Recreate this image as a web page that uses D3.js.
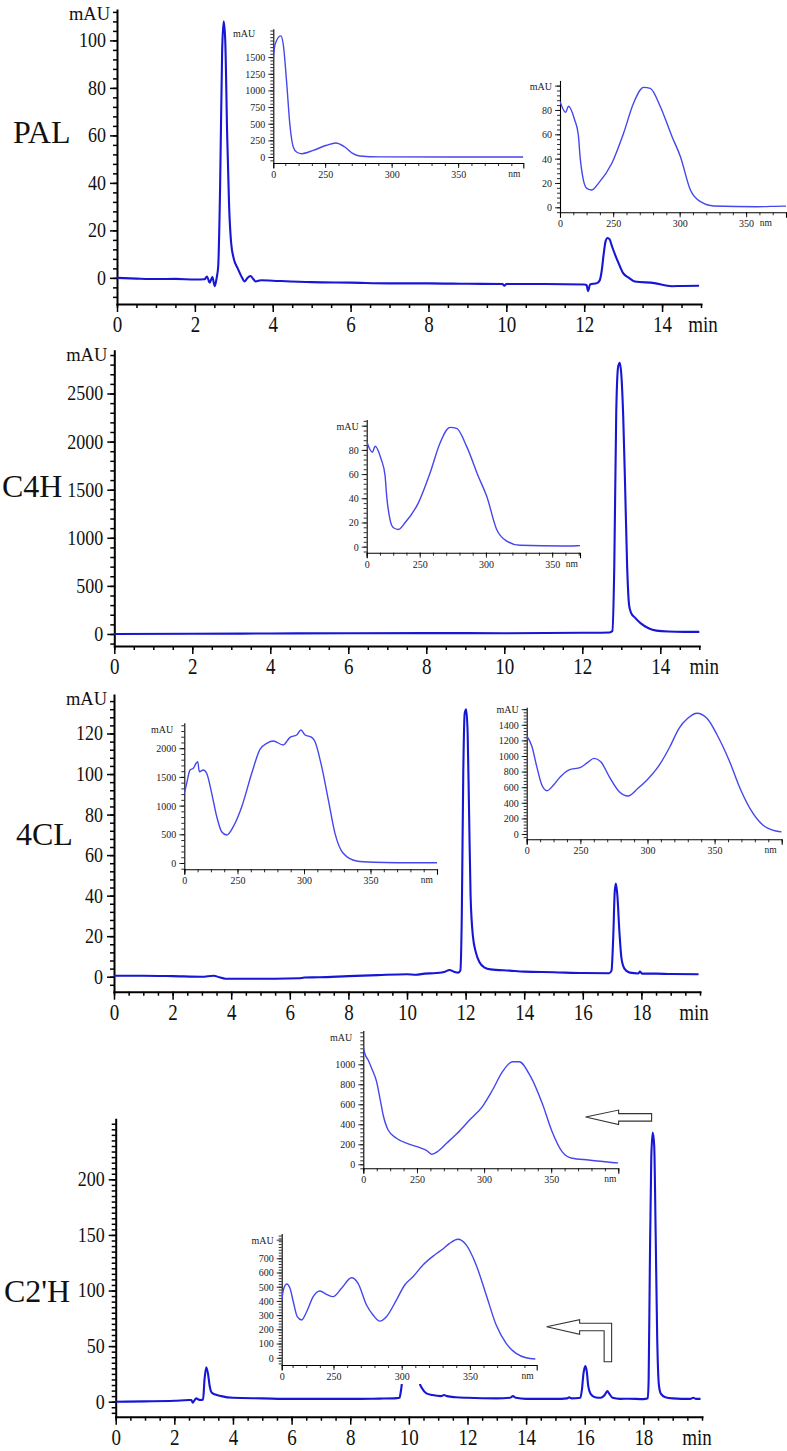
<!DOCTYPE html>
<html><head><meta charset="utf-8">
<script src="https://cdn.jsdelivr.net/npm/d3@7"></script>
<style>
body{margin:0;background:#fff}
svg{display:block}
</style>
</head><body>
<svg id="c" width="787" height="1451"></svg>
<script>
// ---------------- DATA ----------------
const panelNames = ["PAL", "C4H", "4CL", "C2'H"];

// chromatograms: [time (min), signal (mAU)]
const palTrace = [[0,0],[0.5,-0.3],[1,-0.5],[1.5,-0.4],[2,-0.7],[2.25,-0.6],[2.31,0.6],[2.38,-2],[2.45,0.3],[2.51,-3.5],[2.56,0],[2.6,5],[2.65,40],[2.7,95],[2.74,108],[2.78,100],[2.83,60],[2.88,30],[2.93,15],[3.0,8],[3.1,4],[3.2,0.5],[3.28,-1.5],[3.35,0],[3.43,0.8],[3.5,-0.5],[3.56,-1.5],[3.7,-1],[4.0,-1.2],[5,-1.8],[6,-2],[7,-2.3],[8,-2.3],[9,-2.5],[9.9,-2.6],[9.95,-3.3],[10,-2.6],[11,-2.6],[12,-2.8],[12.06,-3],[12.1,-5.5],[12.15,-2.8],[12.33,-2.2],[12.4,-1],[12.45,3],[12.5,10],[12.55,15.5],[12.6,16.8],[12.65,16.3],[12.72,13],[12.8,9.5],[12.88,6.3],[13,2],[13.15,0],[13.3,-1.5],[13.8,-2.2],[14.25,-3.5],[14.5,-3.4],[14.95,-3.3]];
const c4hTrace = [[0,0],[2,2],[4,5],[6,8],[8,9],[10,8],[12,12],[12.7,15],[12.77,30],[12.82,700],[12.87,2300],[12.92,2780],[12.96,2820],[13.0,2700],[13.05,2250],[13.1,1500],[13.15,700],[13.2,300],[13.25,220],[13.35,170],[13.5,110],[13.7,60],[13.9,35],[14.2,25],[14.6,22],[15,22]];
const fclTrace = [[0,0.5],[1,0.5],[2,0.3],[3,0],[3.4,0.5],[3.6,-0.3],[3.8,-1],[4.5,-1],[5.5,-1],[6.3,-0.8],[6.5,-0.4],[7,-0.3],[8,0.3],[9,0.8],[10,1.2],[10.3,1],[10.6,1.5],[11,1.8],[11.3,2.5],[11.45,3.3],[11.6,2.5],[11.75,2],[11.82,3],[11.87,30],[11.92,100],[11.97,130],[12.02,132],[12.07,120],[12.12,80],[12.17,40],[12.25,20],[12.35,12],[12.48,7],[12.65,4.5],[12.85,3.6],[13.5,3],[14,2.5],[15,2.2],[16,1.8],[16.9,1.7],[16.98,3],[17.04,20],[17.09,42],[17.13,46],[17.18,40],[17.25,22],[17.32,9],[17.42,4],[17.6,2],[17.9,1.6],[17.95,2.5],[18.02,1.5],[18.5,1.5],[19,1.3],[19.95,1.2]];
const c2hTrace = [[0,0],[1,0.3],[2,0.8],[2.5,1.5],[2.58,1.5],[2.63,-0.8],[2.68,1],[2.75,3],[2.82,2],[2.9,1.5],[2.98,2],[3.03,20],[3.09,31],[3.15,25],[3.2,15],[3.28,8],[3.4,6.5],[3.6,5],[4,3.5],[5,3],[6,2.5],[7,2.5],[8,2.5],[9,2.8],[9.5,3],[9.68,3.5],[9.72,8],[9.76,16],[9.8,30],[10.05,55],[10.3,30],[10.38,16],[10.45,12],[10.6,7.5],[10.8,6],[11.1,5],[11.2,6],[11.3,5],[11.6,4],[12,3.5],[13,3],[13.45,3.5],[13.55,5],[13.65,3.5],[14,2.5],[15,2.5],[15.4,3],[15.47,4],[15.55,3],[15.85,3.5],[15.9,10],[15.96,26],[16.02,32],[16.07,27],[16.12,14],[16.2,7],[16.35,4],[16.55,3.5],[16.68,6],[16.77,9.5],[16.84,7],[16.95,3.5],[17.2,2.5],[17.5,2.7],[18.0,2.3],[18.15,3],[18.18,20],[18.22,120],[18.27,220],[18.32,242],[18.37,230],[18.42,150],[18.47,60],[18.53,15],[18.6,7],[18.75,4],[19,3],[19.6,2.5],[19.7,3.5],[19.8,2.5],[19.95,2.5]];

// main axis ticks
const palYTicks = [0,20,40,60,80,100];
const c4hYTicks = [0,500,1000,1500,2000,2500];
const fclYTicks = [0,20,40,60,80,100,120];
const c2hYTicks = [0,50,100,150,200];
const xTicks15 = [0,2,4,6,8,10,12,14];
const xTicks20 = [0,2,4,6,8,10,12,14,16,18];

// UV spectra insets: [wavelength (nm), absorbance (mAU)]
const palSpecA = [[211,1480],[212.3,1690],[216.6,1820],[218.5,1690],[221,1130],[223.5,480],[226,150],[228.5,75],[232.3,50],[241,100],[251,176],[258,210],[264.8,150],[271,50],[276,15],[291,2],[399,0]];
const cinnamicSpec = [[210,87],[214.3,78],[216.3,83],[221,72],[223.8,59.4],[225.1,41.6],[227.6,22.4],[230.2,15.6],[233.9,14.2],[238.9,19.7],[249,36.2],[257.8,60.8],[265.3,85.5],[272.9,98.6],[277.9,97.8],[285.5,82.7],[294.3,58],[300.6,41.6],[308.1,14.2],[315.7,4.6],[325.7,1.1],[358.5,0.5],[378.5,1],[380,1]];
const fclSpecA = [[210,1214],[211.8,1389],[214.3,1620],[216.8,1650],[218.8,1737],[220.1,1765],[221.3,1590],[224.3,1620],[226.8,1563],[230.6,1214],[234.4,807],[238.1,545],[241.9,488],[246.8,632],[253.2,981],[260.7,1563],[266.9,1981],[272,2085],[276.9,2125],[284.4,2056],[289.5,2190],[294.5,2230],[297.7,2317],[300.8,2230],[305.8,2190],[308.3,2113],[313.3,1678],[318.3,1098],[323.3,517],[329.5,169],[339.6,35],[352.1,12],[370,4],[400,3]];
const fclSpecB = [[210,1256],[213.8,1128],[217.5,863],[221.3,628],[225.1,555],[230,628],[235.1,735],[241.3,820],[250.2,855],[255.2,914],[260.2,970],[265.2,927],[271.5,735],[279,542],[285.4,487],[292.9,586],[299.1,683],[308,863],[316.7,1119],[323.5,1355],[330,1483],[336.8,1547],[344.3,1483],[351.9,1269],[360.7,949],[369.5,564],[377,308],[385.9,115],[395.9,38],[400,27]];
const c2hSpecA = [[210,1170],[211.3,1100],[213.7,1040],[216.2,960],[219.9,826],[222.4,660],[224.8,493],[228.5,343],[234.7,260],[244.6,200],[252,166],[257,140],[261,100],[265,125],[272,210],[280,310],[289,440],[298.9,580],[306.3,743],[313.7,926],[321.1,1026],[326.1,1026],[334.7,876],[343.3,610],[350.7,326],[358.1,126],[365.5,60],[377.9,43],[397.7,16],[400,14]];
const c2hSpecB = [[212,400],[213.2,477],[215.7,519],[218.1,489],[220.5,394],[223.4,289],[226.6,266],[230.3,324],[235.1,430],[240,470],[244.9,446],[249.7,430],[255.9,489],[263.2,563],[268,524],[274.2,371],[279,301],[283.9,258],[288.8,289],[296.1,406],[302.2,512],[308.3,570],[315.6,653],[324.1,723],[330.2,765],[335.1,805],[341.2,834],[347.3,794],[354.6,653],[362,442],[369.3,230],[376.6,101],[383.9,31],[391.2,0],[398,-9]];

const insetXTicks = [250,300,350];
const palATicks = [0,250,500,750,1000,1250,1500];
const smallTicks = [0,20,40,60,80];
const fclATicks = [0,500,1000,1500,2000];
const fclBTicks = [0,200,400,600,800,1000,1200,1400];
const c2hATicks = [0,200,400,600,800,1000];
const c2hBTicks = [0,100,200,300,400,500,600,700];

// ---------------- LAYOUT ----------------
const FONT = "Liberation Serif";
const svg = d3.select("#c");
const TRACE = "#1616d4", SPEC = "#4646ee";

const panels = [
  {name:panelNames[0], trace:palTrace, xDomain:[0,15], xRange:[117,701], yDomain:[-11,112.8], yRange:[304,10],
   yTicks:palYTicks, yMinor:4, xTicks:xTicks15, mau:true, label:[13,143], minDx:2},
  {name:panelNames[1], trace:c4hTrace, xDomain:[0,15], xRange:[114.3,699.3], yDomain:[-125,2945], yRange:[646,350.7],
   yTicks:c4hYTicks, yMinor:100, xTicks:xTicks15, mau:true, label:[2,497], minDx:5},
  {name:panelNames[2], trace:fclTrace, xDomain:[0,20], xRange:[114,700], yDomain:[-7.4,139], yRange:[991.7,695],
   yTicks:fclYTicks, yMinor:4, xTicks:xTicks20, mau:true, label:[16,845], minDx:-6},
  {name:panelNames[3], trace:c2hTrace, xDomain:[0,20], xRange:[115.7,702], yDomain:[-13.5,254], yRange:[1416.7,1119.3],
   yTicks:c2hYTicks, yMinor:5, xTicks:xTicks20, mau:false, label:[4,1302], minDx:-5}
];

const insets = [
  {spec:palSpecA, xDomain:[211,399], xRange:[273.3,523.3], yDomain:[-90,1918], yRange:[163,29.3], yTicks:palATicks, yMinor:50, mau:{v:1850,tick:false,dx:18}, nmDx:3},
  {spec:cinnamicSpec, xDomain:[210,380], xRange:[560,786], yDomain:[-4.1,103.8], yRange:[212.3,81], yTicks:smallTicks, yMinor:4, mau:{v:100,tick:true}, nmDx:14},
  {spec:cinnamicSpec, xDomain:[210,371], xRange:[366.7,580], yDomain:[-5,104.7], yRange:[552.7,420], yTicks:smallTicks, yMinor:4, mau:{v:100,tick:true}, nmDx:2},
  {spec:fclSpecA, xDomain:[210,400], xRange:[184.3,437], yDomain:[-110,2434], yRange:[869.3,723.3], yTicks:fclATicks, yMinor:100, mau:{v:2330,tick:false,dx:11}, nmDx:4},
  {spec:fclSpecB, xDomain:[210,400], xRange:[526.7,781.7], yDomain:[-68,1619], yRange:[839.3,707.7], yTicks:fclBTicks, yMinor:40, mau:{v:1600,tick:true}, nmDx:5},
  {spec:c2hSpecA, xDomain:[210,400], xRange:[363.3,618.3], yDomain:[-40,1333], yRange:[1168.3,1031], yTicks:c2hATicks, yMinor:40, mau:{v:1265,tick:false,dx:11}, nmDx:2},
  {spec:c2hSpecB, xDomain:[212,399], xRange:[281.7,536.7], yDomain:[-51,871], yRange:[1365,1234], yTicks:c2hBTicks, yMinor:20, mau:{v:831,tick:true}, nmDx:3, opaque:true}
];

function styleAxis(sel, w) {
  sel.attr("font-family", null).attr("font-size", null);
  sel.select(".domain").attr("stroke", "#000").attr("stroke-width", w).attr("stroke-linecap", "square");
  sel.selectAll(".tick line").attr("stroke", "#000").attr("stroke-width", w * 0.75);
}

function minorValues(domain, step) {
  const start = Math.ceil(domain[0] / step - 1e-9) * step;
  return d3.range(start, domain[1] + 1e-9, step);
}

const scalesByPanel = [];

panels.forEach(p => {
  const x = d3.scaleLinear().domain(p.xDomain).range(p.xRange);
  const y = d3.scaleLinear().domain(p.yDomain).range(p.yRange);
  scalesByPanel.push({x, y});
  const g = svg.append("g");
  const x0 = p.yRange[0];

  // minor ticks
  g.append("g").attr("transform", `translate(0,${x0})`)
    .call(d3.axisBottom(x).tickValues(minorValues(p.xDomain, 0.5)).tickSize(4).tickFormat(""))
    .call(s => { styleAxis(s, 2); s.select(".domain").remove(); });
  g.append("g").attr("transform", `translate(${p.xRange[0]},0)`)
    .call(d3.axisLeft(y).tickValues(minorValues(p.yDomain, p.yMinor)).tickSize(4).tickFormat(""))
    .call(s => { styleAxis(s, 2); s.select(".domain").remove(); });

  // major axes
  g.append("g").attr("transform", `translate(0,${x0})`)
    .call(d3.axisBottom(x).tickValues(p.xTicks).tickSize(8).tickSizeOuter(0).tickFormat(d3.format("d")))
    .call(s => {
      styleAxis(s, 2);
      s.selectAll("text").attr("font-size", 19).attr("y", 23.5).attr("dy", 0)
        .attr("transform", "scale(1,1.2)").attr("fill", "#111");
    });
  g.append("g").attr("transform", `translate(${p.xRange[0]},0)`)
    .call(d3.axisLeft(y).tickValues(p.yTicks).tickSize(7).tickSizeOuter(0).tickPadding(4).tickFormat(d3.format("d")))
    .call(s => {
      styleAxis(s, 2);
      s.selectAll("text").attr("font-size", 18).attr("dy", "0.3em")
        .attr("fill", "#111").attr("transform", "scale(1,1.2)");
    });

  // "min" label
  g.append("text").attr("x", x(p.xDomain[1]) + p.minDx).attr("y", (x0 + 28.2) / 1.2)
    .attr("text-anchor", "middle").attr("font-size", 19).attr("fill", "#111")
    .attr("transform", "scale(1,1.2)")
    .text("min");

  if (p.mau) {
    g.append("text").attr("x", p.xRange[0] - 7).attr("y", p.yRange[1] + 10)
      .attr("text-anchor", "end").attr("font-size", 18.5).attr("fill", "#111").text("mAU");
  }

  // trace
  const line = d3.line().x(d => x(d[0])).y(d => y(d[1])).curve(d3.curveMonotoneX);
  g.append("path").datum(p.trace).attr("d", line)
    .attr("fill", "none").attr("stroke", TRACE).attr("stroke-width", 2.1).attr("stroke-linejoin", "round");

  // panel name
  svg.append("text").attr("x", p.label[0]).attr("y", p.label[1])
    .attr("font-size", 32).attr("fill", "#111").text(p.name);
});

// ---------------- INSETS ----------------
insets.forEach((c, i) => {
  const x = d3.scaleLinear().domain(c.xDomain).range(c.xRange);
  const y = d3.scaleLinear().domain(c.yDomain).range(c.yRange);
  const g = svg.append("g");
  const ax = c.xRange[0], ay = c.yRange[0];

  if (c.opaque) {
    g.append("rect").attr("x", ax - 40).attr("y", c.yRange[1] - 8)
      .attr("width", c.xRange[1] - ax + 46).attr("height", ay + 19 - (c.yRange[1] - 8))
      .attr("fill", "#fff");
  }

  const clipId = "clip" + i;
  g.append("clipPath").attr("id", clipId).append("rect")
    .attr("x", ax).attr("y", c.yRange[1] - 5).attr("width", c.xRange[1] - ax).attr("height", ay - c.yRange[1] + 5);

  // minor ticks
  g.append("g").attr("transform", `translate(0,${ay})`)
    .call(d3.axisBottom(x).tickValues(minorValues([c.xDomain[0], c.xDomain[1]], 10)).tickSize(3).tickFormat(""))
    .call(s => { styleAxis(s, 1.1); s.select(".domain").remove(); });
  g.append("g").attr("transform", `translate(${ax},0)`)
    .call(d3.axisLeft(y).tickValues(minorValues(c.yDomain, c.yMinor)).tickSize(3).tickFormat(""))
    .call(s => { styleAxis(s, 1.1); s.select(".domain").remove(); });

  // major axes
  const xt = [c.xDomain[0]].concat(insetXTicks);
  g.append("g").attr("transform", `translate(0,${ay})`)
    .call(d3.axisBottom(x).tickValues(xt).tickSize(5).tickSizeOuter(5)
      .tickFormat(d => d === c.xDomain[0] ? "0" : d3.format("d")(d)))
    .call(s => {
      styleAxis(s, 1.1);
      s.selectAll("text").attr("font-size", 10).attr("y", 15).attr("dy", 0).attr("fill", "#222");
    });
  const yt = c.mau.tick ? c.yTicks.concat([c.mau.v]) : c.yTicks;
  g.append("g").attr("transform", `translate(${ax},0)`)
    .call(d3.axisLeft(y).tickValues(yt).tickSize(5).tickSizeOuter(0).tickPadding(3)
      .tickFormat(d => (c.mau.tick && d === c.mau.v) ? "mAU" : d3.format("d")(d)))
    .call(s => {
      styleAxis(s, 1.1);
      s.selectAll("text").attr("font-size", 10).attr("dy", "0.34em").attr("fill", "#222");
    });
  if (!c.mau.tick) {
    g.append("text").attr("x", ax - c.mau.dx).attr("y", y(c.mau.v)).attr("dy", "0.34em")
      .attr("text-anchor", "end").attr("font-size", 10).attr("fill", "#222").text("mAU");
  }
  g.append("text").attr("x", c.xRange[1] - c.nmDx).attr("y", ay + 14)
    .attr("text-anchor", "end").attr("font-size", 9.5).attr("fill", "#222").text("nm");

  const line = d3.line().x(d => x(d[0])).y(d => y(d[1])).curve(d3.curveMonotoneX);
  g.append("path").datum(c.spec).attr("d", line).attr("clip-path", `url(#${clipId})`)
    .attr("fill", "none").attr("stroke", SPEC).attr("stroke-width", 1.4).attr("stroke-linejoin", "round");
});

// ---------------- ARROWS (C2'H panel) ----------------
const arrowTips = [[16.03, 256], [14.7, 67.4]];
const arrowShapes = [
  [[0,0],[33,-7],[33,-3.5],[66,-3.5],[66,4],[33,4],[33,7.5]],
  [[0,0],[33,-7],[33,-3.5],[65,-3.5],[65,35],[57.5,35],[57.5,4],[33,4],[33,7.5]]
];
const sc = scalesByPanel[3];
arrowTips.forEach((t, i) => {
  const tx = sc.x(t[0]), ty = sc.y(t[1]);
  svg.append("path")
    .attr("d", d3.line()(arrowShapes[i].map(p => [tx + p[0], ty + p[1]])) + "Z")
    .attr("fill", "#fff").attr("stroke", "#333").attr("stroke-width", 1.1);
});

// serif font on every text element (inline style)
svg.selectAll("text").style("font-family", FONT);
</script>
</body></html>
